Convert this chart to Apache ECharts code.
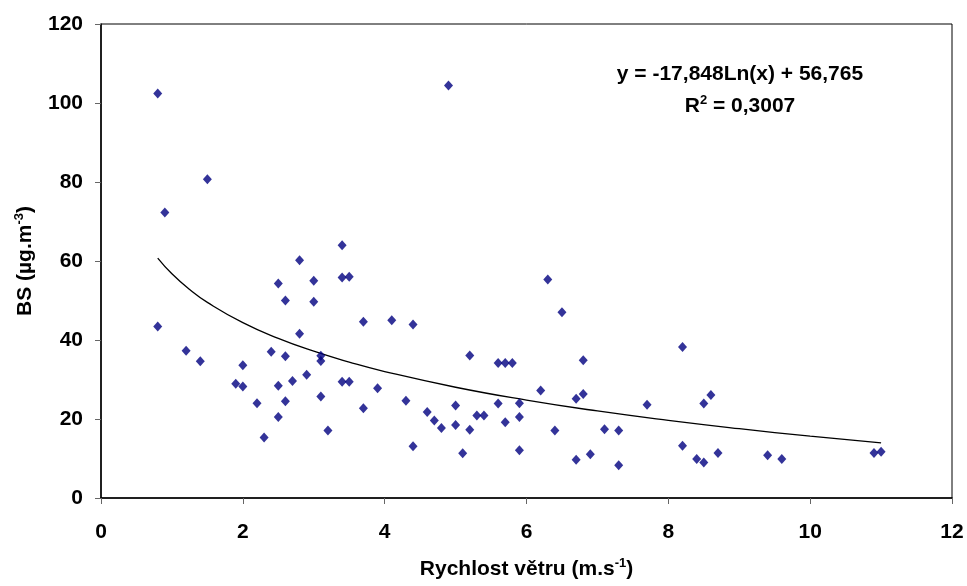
<!DOCTYPE html>
<html>
<head>
<meta charset="utf-8">
<script src="https://cdn.jsdelivr.net/npm/echarts@6/dist/echarts.min.js"></script>
<style>
html,body{margin:0;padding:0;background:#fff;}
#chart{width:967px;height:586px;}
</style>
</head>
<body>
<div id="chart"></div>
<script>
// Wind speed (m.s-1) for each observation
var windSpeed = [0.8,0.8,0.9,1.2,1.4,1.5,1.9,2.0,2.0,2.2,2.3,2.4,2.5,2.5,2.5,2.6,2.6,2.6,2.7,2.8,2.8,2.9,3.0,3.0,3.1,3.1,3.1,3.2,3.4,3.4,3.4,3.5,3.5,3.7,3.7,3.9,4.1,4.3,4.4,4.4,4.6,4.7,4.8,4.9,5.0,5.0,5.1,5.2,5.2,5.3,5.4,5.6,5.6,5.7,5.7,5.8,5.9,5.9,5.9,6.2,6.3,6.4,6.5,6.7,6.7,6.8,6.8,6.9,7.1,7.3,7.3,7.7,8.2,8.2,8.4,8.5,8.5,8.6,8.7,9.4,9.6,10.9,11.0];
// BS concentration (µg.m-3)
var bsValues = [102.4,43.4,72.3,37.3,34.6,80.7,28.9,33.6,28.2,24.0,15.3,37.0,54.3,28.4,20.5,50.0,35.9,24.5,29.6,60.2,41.6,31.2,55.0,49.7,36.0,34.7,25.7,17.1,64.0,55.8,29.4,56.0,29.4,44.6,22.7,27.8,45.0,24.6,43.9,13.1,21.8,19.6,17.7,104.4,23.4,18.5,11.3,36.1,17.3,20.9,20.9,34.2,23.9,34.2,19.2,34.2,24.0,20.5,12.1,27.2,55.3,17.1,47.0,25.1,9.7,34.9,26.3,11.1,17.4,17.1,8.3,23.6,38.2,13.2,9.9,23.9,9.0,26.1,11.4,10.8,9.9,11.4,11.7];
// Logarithmic trend line
var trendX = [0.8,1.0,1.25,1.5,2,2.5,3,3.5,4,5,6,7,8,9,10,11];
var trendY = [60.75,56.77,52.78,49.53,44.39,40.41,37.16,34.41,32.02,28.04,24.79,22.03,19.65,17.55,15.67,13.97];
// Axis ticks
var xTicks = [0,2,4,6,8,10,12];
var yTicks = [0,20,40,60,80,100,120];
var equationText = 'y = -17,848Ln(x) + 56,765';
var r2Text = '0,3007';

var scatterData = windSpeed.map(function(x,i){return [x,bsValues[i]];});
var trendData = trendX.map(function(x,i){return [x,trendY[i]];});

var FONT = "'Liberation Sans', Arial, sans-serif";
var FS = 21;
var supStyle = {fontFamily:FONT,fontWeight:'bold',fontSize:13,color:'#000',verticalAlign:'top',lineHeight:14};
var chart = echarts.init(document.getElementById('chart'));
chart.setOption({
  backgroundColor:'#fff',
  animation:false,
  graphic:[
    {type:'text',x:740,y:74,z:10,style:{text:equationText,align:'center',verticalAlign:'middle',
      font:'bold '+FS+'px '+FONT,fill:'#000'}},
    {type:'text',x:740,y:106,z:10,style:{text:'R{sup|2} = '+r2Text,align:'center',verticalAlign:'middle',
      fontFamily:FONT,fontWeight:'bold',fontSize:FS,fill:'#000',lineHeight:24,
      rich:{sup:{fontFamily:FONT,fontWeight:'bold',fontSize:13,fill:'#000',verticalAlign:'top',lineHeight:14}}}}
  ],
  grid:{left:101,right:15,top:24,bottom:88,show:true,borderColor:'#000',borderWidth:1,containLabel:false},
  xAxis:{
    type:'value',min:xTicks[0],max:xTicks[xTicks.length-1],interval:2,
    name:'Rychlost větru (m.s{sup|-1})',nameLocation:'middle',nameGap:59,
    nameTextStyle:{fontFamily:FONT,fontWeight:'bold',fontSize:FS,color:'#000',lineHeight:24,rich:{sup:supStyle}},
    axisLine:{show:true,onZero:false,lineStyle:{color:'#000',width:1.5}},
    axisTick:{show:true,inside:false,length:6,lineStyle:{color:'#666',width:1}},
    axisLabel:{fontFamily:FONT,fontWeight:'bold',fontSize:FS,color:'#000',margin:24},
    splitLine:{show:false}
  },
  yAxis:{
    type:'value',min:yTicks[0],max:yTicks[yTicks.length-1],interval:20,
    name:'BS (µg.m{sup|-3})',nameLocation:'middle',nameGap:62,nameRotate:90,
    nameTextStyle:{fontFamily:FONT,fontWeight:'bold',fontSize:FS,color:'#000',lineHeight:24,rich:{sup:supStyle}},
    axisLine:{show:true,onZero:false,lineStyle:{color:'#000',width:1.5}},
    axisTick:{show:true,inside:false,length:6,lineStyle:{color:'#666',width:1}},
    axisLabel:{fontFamily:FONT,fontWeight:'bold',fontSize:FS,color:'#000',margin:18},
    splitLine:{show:false}
  },
  series:[
    {type:'line',data:trendData,smooth:true,symbol:'none',z:2,
     lineStyle:{color:'#000',width:1.3},silent:true},
    {type:'scatter',data:scatterData,symbol:'diamond',symbolSize:[9,10],z:3,
     itemStyle:{color:'#000080'}}
  ]
});
</script>
</body>
</html>
